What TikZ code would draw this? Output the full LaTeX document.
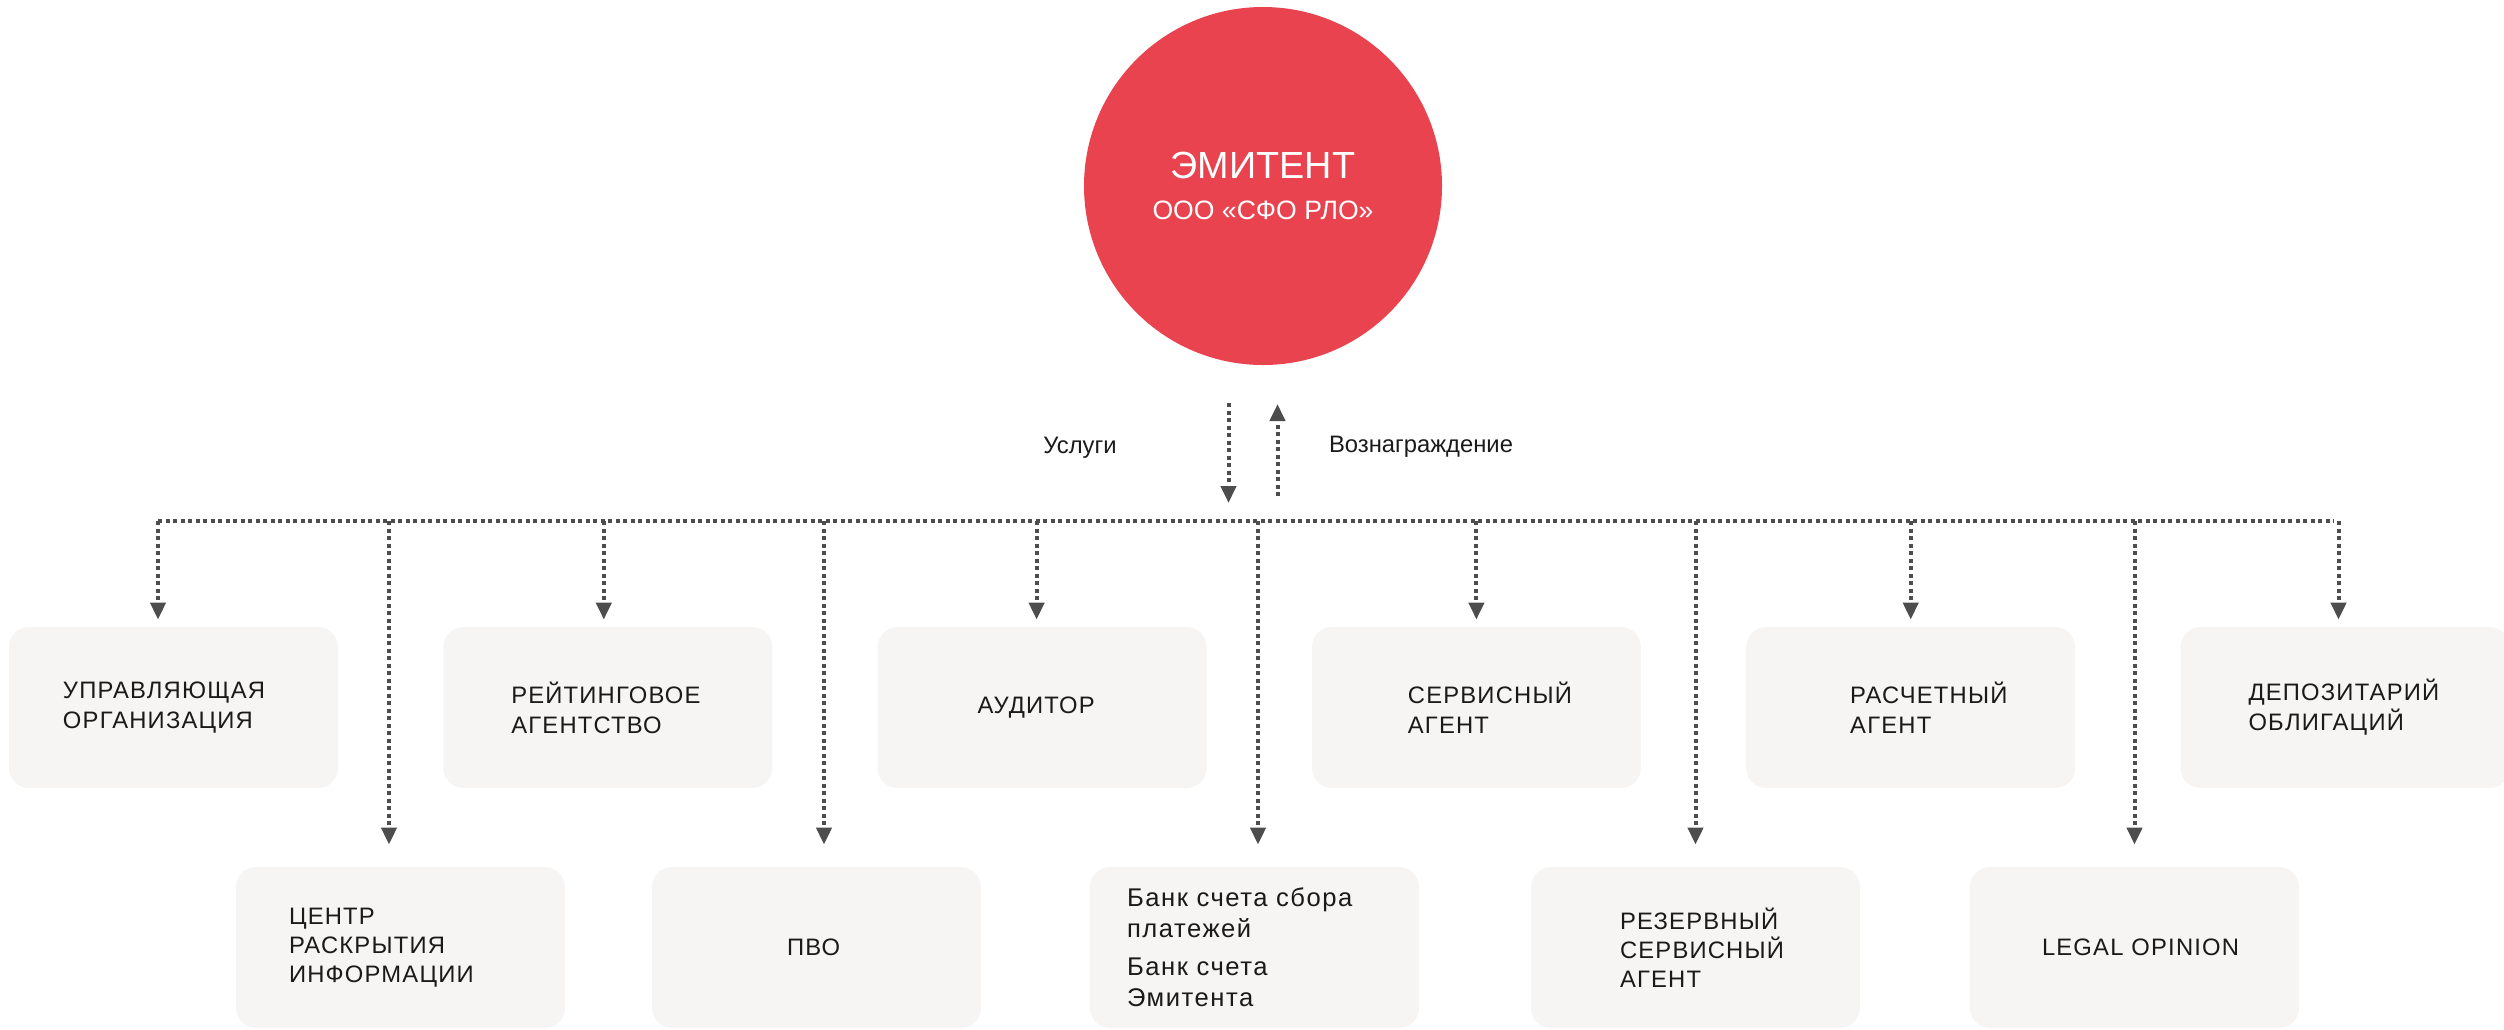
\documentclass[tikz,border=0pt]{standalone}
\usepackage{fontspec}
\setmainfont{Liberation Sans}
\newfontfamily\spacedfont[LetterSpace=5]{Liberation Sans}
\newfontfamily\bankfont[LetterSpace=6]{Liberation Sans}
\usetikzlibrary{arrows.meta,positioning}

\definecolor{emitred}{RGB}{232,67,79}
\definecolor{boxgray}{RGB}{246,245,243}
\definecolor{flowgray}{RGB}{77,77,77}
\definecolor{txtdark}{RGB}{26,26,26}

\tikzset{
  party/.style={fill=boxgray, rounded corners=10pt, minimum width=164.5pt,
    minimum height=80.5pt, inner sep=0pt, text width=164.5pt, align=left,
    text=txtdark, font=\spacedfont\fontsize{11.9pt}{15pt}\selectfont,
    execute at begin node={\leftskip=#1\relax}},
  party/.default=0pt,
  dotline/.style={draw=flowgray, line width=2pt, dash pattern=on 2pt off 1.75pt},
  flow/.style={dotline, -{Triangle[width=7.5pt,length=8.5pt]}},
  lbl/.style={text=txtdark, inner sep=0pt, font=\fontsize{11.9pt}{14pt}\selectfont}
}

\begin{document}
\begin{tikzpicture}[x=0.5pt,y=-0.5pt]
		\useasboundingbox (0,0) rectangle (2504,1029);
		\node (emit) [circle, fill=emitred, minimum size=179pt, inner sep=0pt, text=white,
			align=center, font=\fontsize{13.3pt}{20.5pt}\selectfont] at (1263,186)
		{{\fontsize{18.9pt}{20.5pt}\selectfont ЭМИТЕНТ}\\ООО «СФО РЛО»};
		% first row
		\node (upr) [party=27pt] at (173.5,707.5) {УПРАВЛЯЮЩАЯ\\ОРГАНИЗАЦИЯ};
		\node (reit) [party=34pt, right=52.25pt of upr] {РЕЙТИНГОВОЕ\\АГЕНТСТВО};
		\node (aud) [party=50pt, right=52.25pt of reit] {АУДИТОР};
		\node (serv) [party=48pt, right=52.25pt of aud] {СЕРВИСНЫЙ\\АГЕНТ};
		\node (rasch) [party=52pt, right=52.25pt of serv] {РАСЧЕТНЫЙ\\АГЕНТ};
		\node (depo) [party=34pt, right=52.25pt of rasch] {ДЕПОЗИТАРИЙ\\ОБЛИГАЦИЙ};
		% second row
		\node (centr) [party=26.5pt, font=\spacedfont\fontsize{11.9pt}{14.5pt}\selectfont]
			at (400.5,947.5) {ЦЕНТР\\РАСКРЫТИЯ\\ИНФОРМАЦИИ};
		\node (pvo) [party=67.5pt] at (816.5,947.5) {ПВО};
		\node (bank) [party=18.5pt, font=\bankfont\fontsize{12.8pt}{15.5pt}\selectfont]
			at (1254.5,947.5) {Банк счета сбора\\платежей\\[3.5pt]Банк счета\\Эмитента};
		\node (rez) [party=44.5pt, font=\spacedfont\fontsize{11.9pt}{14.5pt}\selectfont]
			at (1695.5,947.5) {РЕЗЕРВНЫЙ\\СЕРВИСНЫЙ\\АГЕНТ};
		\node (legal) [party=36pt] at (2134.5,947.5) {LEGAL OPINION};
		% services and fee
		\coordinate (svcTop) at (1228.5,403);
		\coordinate (svcEnd) at (1228.5,503);
		\coordinate (feeTop) at (1277.5,404);
		\coordinate (feeEnd) at (1277.5,496);
		\draw[flow] (svcTop) -- (svcEnd);
		\draw[flow] (feeEnd) -- (feeTop);
		\node (svc) [lbl] at (1080,448) {Услуги};
		\node (fee) [lbl] at (1421,447) {Вознаграждение};
		% bus
		\coordinate (busL) at (158,521);
		\coordinate (busR) at (2334,521);
		\draw[dotline] (busL) -- (busR);
		\foreach \n/\s in {upr/-7.75pt, reit/-2pt, aud/-2.75pt, serv/0pt, rasch/0pt, depo/-3.25pt}
			\draw[flow, shorten >=3.5pt] ([xshift=\s]\n.north |- busL) -- ([xshift=\s]\n.north);
		\foreach \n/\s in {centr/-5.75pt, pvo/3.75pt, bank/1.75pt, rez/0pt, legal/0pt}
			\draw[flow, shorten >=11pt] ([xshift=\s]\n.north |- busL) -- ([xshift=\s]\n.north);
\end{tikzpicture}
\end{document}
